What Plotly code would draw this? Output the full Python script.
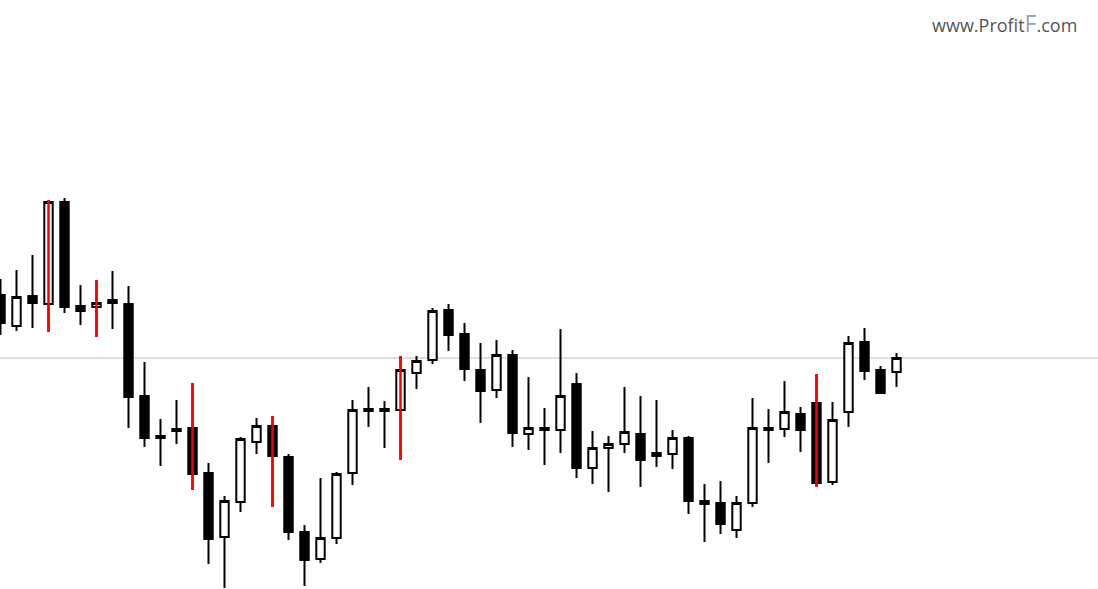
import plotly.graph_objects as go

# OHLC data (price units), one candle per bar
opens = [1.2063, 1.2032, 1.2062, 1.2054, 1.2156, 1.2052, 1.2051, 1.2058, 1.2054, 1.1962,
         1.1922, 1.1927, 1.1930, 1.1885, 1.1821, 1.1856, 1.1916, 1.1932, 1.1901, 1.1826,
         1.1799, 1.1820, 1.1885, 1.1947, 1.1949, 1.1948, 1.1985, 1.1998, 1.2048, 1.2024,
         1.1988, 1.1968, 1.2003, 1.1924, 1.1930, 1.1928, 1.1974, 1.1890, 1.1910, 1.1914,
         1.1924, 1.1905, 1.1904, 1.1920, 1.1857, 1.1855, 1.1828, 1.1855, 1.1930, 1.1929,
         1.1944, 1.1955, 1.1876, 1.1946, 1.2016, 1.1988, 1.1986]
highs = [1.2079, 1.2088, 1.2103, 1.2158, 1.2160, 1.2073, 1.2078, 1.2087, 1.2072, 1.1996,
         1.1939, 1.1958, 1.1975, 1.1895, 1.1862, 1.1921, 1.1940, 1.1942, 1.1904, 1.1833,
         1.1880, 1.1886, 1.1958, 1.1971, 1.1957, 1.2002, 1.2002, 1.2050, 1.2054, 1.2035,
         1.2015, 1.2018, 1.2008, 1.1981, 1.1950, 1.2029, 1.1985, 1.1927, 1.1922, 1.1971,
         1.1962, 1.1958, 1.1928, 1.1922, 1.1874, 1.1877, 1.1862, 1.1960, 1.1949, 1.1977,
         1.1951, 1.1984, 1.1956, 1.2022, 1.2030, 1.1992, 1.2005]
lows = [1.2023, 1.2027, 1.2030, 1.2026, 1.2045, 1.2033, 1.2021, 1.2029, 1.1930, 1.1911,
        1.1892, 1.1914, 1.1868, 1.1794, 1.1770, 1.1846, 1.1904, 1.1851, 1.1818, 1.1772,
        1.1795, 1.1814, 1.1873, 1.1931, 1.1910, 1.1898, 1.1969, 1.1994, 1.2007, 1.1977,
        1.1935, 1.1960, 1.1911, 1.1908, 1.1893, 1.1905, 1.1880, 1.1874, 1.1866, 1.1905,
        1.1871, 1.1891, 1.1889, 1.1844, 1.1816, 1.1824, 1.1820, 1.1851, 1.1895, 1.1921,
        1.1906, 1.1871, 1.1873, 1.1931, 1.1978, 1.1964, 1.1971]
closes = [1.2035, 1.2061, 1.2055, 1.2156, 1.2051, 1.2047, 1.2055, 1.2055, 1.1961, 1.1920,
          1.1920, 1.1929, 1.1884, 1.1819, 1.1857, 1.1919, 1.1932, 1.1902, 1.1826, 1.1798,
          1.1820, 1.1884, 1.1948, 1.1949, 1.1947, 1.1988, 1.1997, 1.2047, 1.2023, 1.1989,
          1.1967, 1.2003, 1.1925, 1.1930, 1.1928, 1.1962, 1.1890, 1.1910, 1.1914, 1.1926,
          1.1898, 1.1902, 1.1920, 1.1857, 1.1854, 1.1834, 1.1855, 1.1930, 1.1928, 1.1946,
          1.1928, 1.1875, 1.1938, 1.2015, 1.1987, 1.1965, 1.2000]

# candles whose wick is highlighted in red
red_idx = [3, 6, 12, 17, 25, 51]

# current price line
price_line = 1.2000

x = list(range(len(opens)))

fig = go.Figure()
fig.add_trace(go.Candlestick(
    x=x, open=opens, high=highs, low=lows, close=closes,
    increasing=dict(fillcolor="#FFFFFF", line=dict(color="#000000", width=2)),
    decreasing=dict(fillcolor="#000000", line=dict(color="#000000", width=2)),
    whiskerwidth=0,
    showlegend=False, hoverinfo="skip",
))

rx, ry = [], []
for i in red_idx:
    rx += [x[i], x[i], None]
    ry += [lows[i], highs[i], None]
fig.add_trace(go.Scatter(x=rx, y=ry, mode="lines",
                         line=dict(color="#FF0000", width=2.5),
                         showlegend=False, hoverinfo="skip"))

fig.add_hline(y=price_line, line=dict(color="#BDBDBD", width=1), layer="below")

fig.add_annotation(
    xref="paper", yref="paper", x=1079 / 1098, y=1 - 23 / 589,
    xanchor="right", yanchor="middle", showarrow=False,
    text="www.Profit<span style='color:#8CA6B4;font-size:23px'>F</span>.com",
    font=dict(family="Open Sans", size=18, color="#555555"),
)

fig.update_layout(
    width=1098, height=589,
    margin=dict(l=0, r=0, t=0, b=0),
    paper_bgcolor="white", plot_bgcolor="white",
    showlegend=False,
    boxgap=0.3, boxgroupgap=0.25,
    xaxis=dict(range=[-0.03125, -0.03125 + 1098 / 16], visible=False,
               rangeslider=dict(visible=False), showgrid=False, zeroline=False),
    yaxis=dict(range=[1.2358 - 0.0589, 1.2358], visible=False,
               showgrid=False, zeroline=False),
)

fig.write_html("out.html", config={"displayModeBar": False},
               post_script="document.body.style.margin='0';document.body.style.overflow='hidden';")
